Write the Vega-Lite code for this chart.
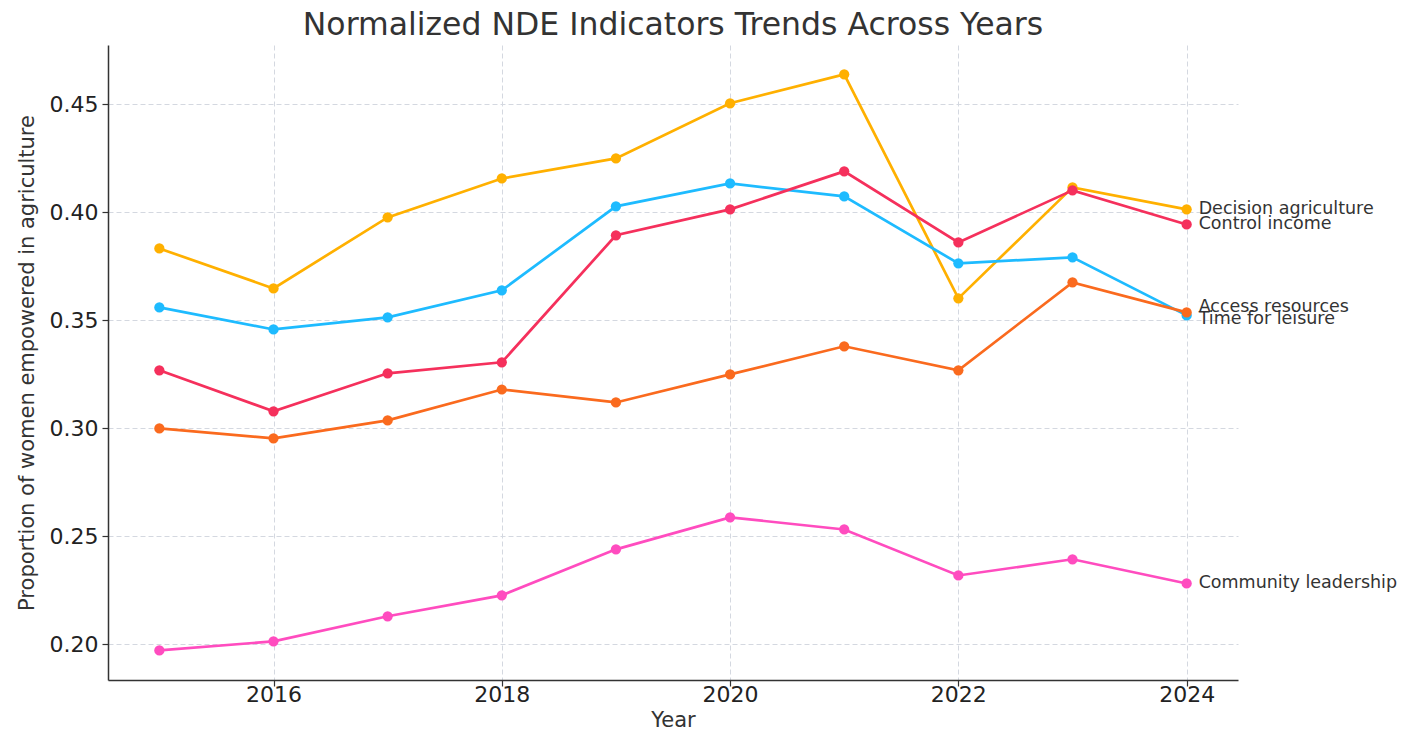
{
  "$schema": "https://vega.github.io/schema/vega-lite/v6.json",
  "width": 1130,
  "height": 635,
  "autosize": "none",
  "padding": {"left": 108, "top": 45, "right": 165, "bottom": 51},
  "background": "white",
  "title": {
    "text": "Normalized NDE Indicators Trends Across Years",
    "font": "DejaVu Sans",
    "fontSize": 31.5,
    "fontWeight": "normal",
    "color": "#333333",
    "anchor": "middle",
    "offset": 4
  },
  "config": {
    "view": {"stroke": null},
    "font": "DejaVu Sans",
    "axis": {
      "labelFont": "DejaVu Sans",
      "titleFont": "DejaVu Sans",
      "labelFontSize": 22,
      "titleFontSize": 21,
      "titleFontWeight": "normal",
      "labelColor": "#222222",
      "titleColor": "#333333",
      "domainColor": "#333333",
      "domainWidth": 1.5,
      "tickColor": "#333333",
      "tickSize": 6,
      "tickWidth": 1.2,
      "gridColor": "#d4d8e0",
      "gridDash": [5, 3],
      "gridWidth": 1
    }
  },
  "data": {
    "values": [
      {"year": 2015, "series": "Decision agriculture", "value": 0.3833},
      {"year": 2016, "series": "Decision agriculture", "value": 0.3648},
      {"year": 2017, "series": "Decision agriculture", "value": 0.3977},
      {"year": 2018, "series": "Decision agriculture", "value": 0.4157},
      {"year": 2019, "series": "Decision agriculture", "value": 0.4250},
      {"year": 2020, "series": "Decision agriculture", "value": 0.4505},
      {"year": 2021, "series": "Decision agriculture", "value": 0.4639},
      {"year": 2022, "series": "Decision agriculture", "value": 0.3602},
      {"year": 2023, "series": "Decision agriculture", "value": 0.4116},
      {"year": 2024, "series": "Decision agriculture", "value": 0.4014},
      {"year": 2015, "series": "Time for leisure", "value": 0.3560},
      {"year": 2016, "series": "Time for leisure", "value": 0.3458},
      {"year": 2017, "series": "Time for leisure", "value": 0.3514},
      {"year": 2018, "series": "Time for leisure", "value": 0.3639},
      {"year": 2019, "series": "Time for leisure", "value": 0.4028},
      {"year": 2020, "series": "Time for leisure", "value": 0.4134},
      {"year": 2021, "series": "Time for leisure", "value": 0.4074},
      {"year": 2022, "series": "Time for leisure", "value": 0.3764},
      {"year": 2023, "series": "Time for leisure", "value": 0.3792},
      {"year": 2024, "series": "Time for leisure", "value": 0.3523},
      {"year": 2015, "series": "Control income", "value": 0.3269},
      {"year": 2016, "series": "Control income", "value": 0.3079},
      {"year": 2017, "series": "Control income", "value": 0.3255},
      {"year": 2018, "series": "Control income", "value": 0.3306},
      {"year": 2019, "series": "Control income", "value": 0.3894},
      {"year": 2020, "series": "Control income", "value": 0.4014},
      {"year": 2021, "series": "Control income", "value": 0.4190},
      {"year": 2022, "series": "Control income", "value": 0.3861},
      {"year": 2023, "series": "Control income", "value": 0.4102},
      {"year": 2024, "series": "Control income", "value": 0.3944},
      {"year": 2015, "series": "Access resources", "value": 0.3000},
      {"year": 2016, "series": "Access resources", "value": 0.2954},
      {"year": 2017, "series": "Access resources", "value": 0.3037},
      {"year": 2018, "series": "Access resources", "value": 0.3180},
      {"year": 2019, "series": "Access resources", "value": 0.3120},
      {"year": 2020, "series": "Access resources", "value": 0.3250},
      {"year": 2021, "series": "Access resources", "value": 0.3380},
      {"year": 2022, "series": "Access resources", "value": 0.3269},
      {"year": 2023, "series": "Access resources", "value": 0.3676},
      {"year": 2024, "series": "Access resources", "value": 0.3537},
      {"year": 2015, "series": "Community leadership", "value": 0.1972},
      {"year": 2016, "series": "Community leadership", "value": 0.2014},
      {"year": 2017, "series": "Community leadership", "value": 0.2130},
      {"year": 2018, "series": "Community leadership", "value": 0.2227},
      {"year": 2019, "series": "Community leadership", "value": 0.2440},
      {"year": 2020, "series": "Community leadership", "value": 0.2588},
      {"year": 2021, "series": "Community leadership", "value": 0.2532},
      {"year": 2022, "series": "Community leadership", "value": 0.2319},
      {"year": 2023, "series": "Community leadership", "value": 0.2394},
      {"year": 2024, "series": "Community leadership", "value": 0.2282}
    ]
  },
  "encoding": {
    "x": {
      "field": "year",
      "type": "quantitative",
      "scale": {"domain": [2014.55, 2024.45], "nice": false, "zero": false},
      "axis": {"values": [2016, 2018, 2020, 2022, 2024], "format": "d", "title": "Year", "titlePadding": 4, "labelPadding": -2}
    },
    "y": {
      "field": "value",
      "type": "quantitative",
      "scale": {"domain": [0.1835, 0.4775], "nice": false, "zero": false},
      "axis": {"values": [0.20, 0.25, 0.30, 0.35, 0.40, 0.45], "format": ".2f", "title": "Proportion of women empowered in agriculture", "titlePadding": 12, "labelPadding": 4}
    },
    "color": {
      "field": "series",
      "type": "nominal",
      "legend": null,
      "scale": {
        "domain": ["Decision agriculture", "Time for leisure", "Control income", "Access resources", "Community leadership"],
        "range": ["#FFB000", "#1EBBFF", "#F5305C", "#FA6A1E", "#FF4CBF"]
      }
    }
  },
  "layer": [
    {"mark": {"type": "line", "strokeWidth": 2.7}},
    {"mark": {"type": "point", "filled": true, "size": 105, "opacity": 1}},
    {
      "transform": [{"filter": "datum.year == 2024 && datum.series != 'Access resources' && datum.series != 'Time for leisure'"}],
      "mark": {"type": "text", "align": "left", "baseline": "middle", "dx": 12, "fontSize": 17.5, "font": "DejaVu Sans", "color": "#333333"},
      "encoding": {"text": {"field": "series"}, "color": {"value": "#333333"}}
    },
    {
      "transform": [{"filter": "datum.year == 2024 && datum.series == 'Access resources'"}],
      "mark": {"type": "text", "align": "left", "baseline": "middle", "dx": 12, "dy": -5, "fontSize": 17.5, "font": "DejaVu Sans", "color": "#333333"},
      "encoding": {"text": {"field": "series"}, "color": {"value": "#333333"}}
    },
    {
      "transform": [{"filter": "datum.year == 2024 && datum.series == 'Time for leisure'"}],
      "mark": {"type": "text", "align": "left", "baseline": "middle", "dx": 12, "dy": 4, "fontSize": 17.5, "font": "DejaVu Sans", "color": "#333333"},
      "encoding": {"text": {"field": "series"}, "color": {"value": "#333333"}}
    }
  ]
}
